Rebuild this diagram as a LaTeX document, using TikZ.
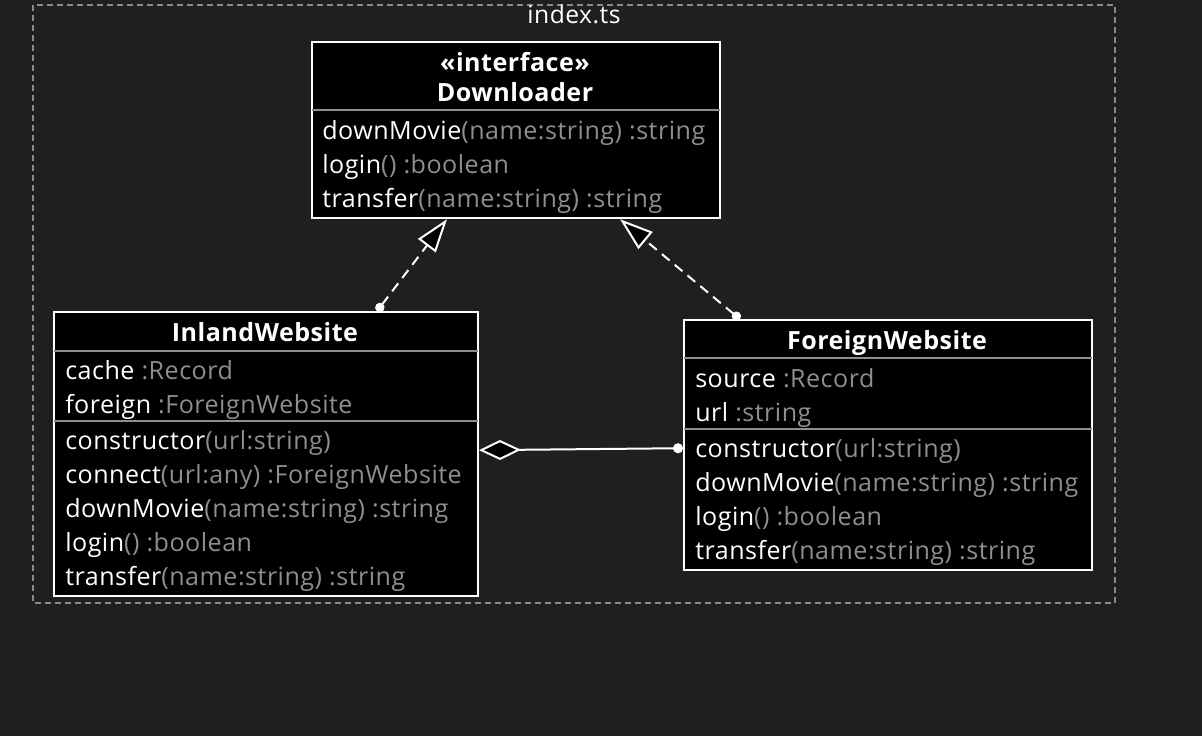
\documentclass[tikz,border=0pt]{standalone}
\usepackage{fontspec}
\setmainfont{Open Sans}[LetterSpace=2]
\usetikzlibrary{calc,arrows.meta}

\definecolor{bgdark}{HTML}{1F1F1F}
\definecolor{typegray}{HTML}{8E8E8E}
\definecolor{framegray}{HTML}{8A8A8A}
\newcommand{\tp}[1]{\textcolor{typegray}{#1}}

\tikzset{
  classbox/.style={draw=white, line width=1.5pt, fill=black, anchor=north west,
    inner sep=0pt, minimum width=#1},
  member/.style={anchor=base west, text=white, inner sep=0pt,
    font=\fontsize{18.8}{20}\selectfont},
  ctitle/.style={anchor=base, text=white, inner sep=0pt,
    font=\fontsize{18.8}{20}\selectfont\bfseries},
  sepline/.style={draw=typegray, line width=1.2pt},
  realize/.style={draw=white, line width=1.5pt, dash pattern=on 7.5pt off 5pt,
    {Circle[length=7pt]}-{Triangle[fill=black, length=25pt, width=16.5pt]}},
  aggregate/.style={draw=white, line width=1.5pt,
    {Diamond[fill=black, length=31.5pt, width=15pt]}-{Circle[length=7.5pt]}}
}

\begin{document}
\begin{tikzpicture}[x=0.75pt, y=-0.75pt]
    % Page background
    \fill[bgdark] (0,0) rectangle (1202,736);

    % Module frame
    \draw[framegray, line width=1.1pt, dash pattern=on 4.5pt off 3pt] (33,5) rectangle (1115,603);
    \node[text=white, font=\fontsize{18.5}{20}\selectfont, anchor=base] (file) at (574,23) {index.ts};

    % Interface Downloader
    \node[classbox=306pt, minimum height=132pt] (downloader) at (311,41) {};
    \node[ctitle] (dstereo) at (515,71) {«interface»};
    \node[ctitle] (dname) at (515,101) {Downloader};
    \draw[sepline] ($(downloader.north west)+(1,69)$) -- ($(downloader.north east)+(-1,69)$);
    \node[member] (d1) at (322,139) {downMovie\tp{(name:string) :string}};
    \node[member] (d2) at (322,173) {login\tp{() :boolean}};
    \node[member] (d3) at (322,207) {transfer\tp{(name:string) :string}};

    % Class InlandWebsite
    \node[classbox=318pt, minimum height=213pt] (inland) at (53,311) {};
    \node[ctitle] (iname) at (265,341) {InlandWebsite};
    \draw[sepline] ($(inland.north west)+(1,40)$) -- ($(inland.north east)+(-1,40)$);
    \node[member] (i1) at (65,379) {cache \tp{:Record}};
    \node[member] (i2) at (65,413) {foreign \tp{:ForeignWebsite}};
    \draw[sepline] ($(inland.north west)+(1,110)$) -- ($(inland.north east)+(-1,110)$);
    \node[member] (i3) at (65,449) {constructor\tp{(url:string)}};
    \node[member] (i4) at (65,483) {connect\tp{(url:any) :ForeignWebsite}};
    \node[member] (i5) at (65,517) {downMovie\tp{(name:string) :string}};
    \node[member] (i6) at (65,551) {login\tp{() :boolean}};
    \node[member] (i7) at (65,585) {transfer\tp{(name:string) :string}};

    % Class ForeignWebsite
    \node[classbox=306pt, minimum height=187.5pt] (foreign) at (683,319) {};
    \node[ctitle] (fname) at (887,349) {ForeignWebsite};
    \draw[sepline] ($(foreign.north west)+(1,39)$) -- ($(foreign.north east)+(-1,39)$);
    \node[member] (f1) at (695,387) {source \tp{:Record}};
    \node[member] (f2) at (695,421) {url \tp{:string}};
    \draw[sepline] ($(foreign.north west)+(1,110)$) -- ($(foreign.north east)+(-1,110)$);
    \node[member] (f3) at (695,457) {constructor\tp{(url:string)}};
    \node[member] (f4) at (695,491) {downMovie\tp{(name:string) :string}};
    \node[member] (f5) at (695,525) {login\tp{() :boolean}};
    \node[member] (f6) at (695,559) {transfer\tp{(name:string) :string}};

    % Realizations
    \coordinate (inTop) at ($(inland.north west)+(324,0)$);
    \coordinate (dLeft) at ($(downloader.south west)+(136,0)$);
    \coordinate (fTop) at ($(foreign.north west)+(57,0)$);
    \coordinate (dRight) at ($(downloader.south west)+(309,0)$);
    \draw[realize] (inTop) -- (dLeft);
    \draw[realize] (fTop) -- (dRight);

    % Aggregation
    \coordinate (inSide) at ($(inland.north east)+(0,139)$);
    \coordinate (fSide) at ($(foreign.north west)+(0,129)$);
    \draw[aggregate] (inSide) -- (fSide);
\end{tikzpicture}
\end{document}
